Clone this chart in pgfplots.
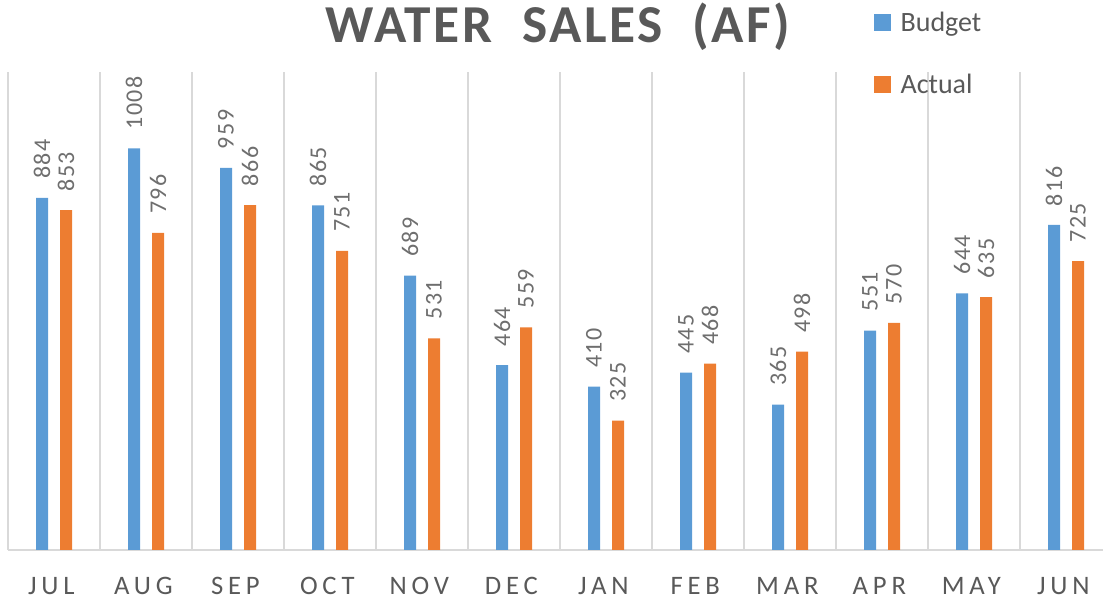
\documentclass[border=0pt]{standalone}
\usepackage{pgfplots}
\pgfplotsset{compat=1.18}
\usepackage{fontspec}
\setmainfont{Carlito}
\newfontfamily\lblfont[LetterSpace=18]{Carlito}
\newfontfamily\numfont[LetterSpace=6]{Carlito}
\newfontfamily\titlefont[LetterSpace=5]{Carlito}
\definecolor{bud}{HTML}{5B9BD5}
\definecolor{act}{HTML}{ED7D31}
\definecolor{txt}{HTML}{595959}
\definecolor{numtxt}{HTML}{6E6E6E}
\definecolor{grd}{HTML}{D9D9D9}
\pgfplotstableread{
x budget actual
0 884 853
1 1008 796
2 959 866
3 865 751
4 689 531
5 464 559
6 410 325
7 445 468
8 365 498
9 551 570
10 644 635
11 816 725
}\datatable
\begin{document}
\begin{tikzpicture}
\begin{axis}[
  at={(6pt,39.75pt)}, anchor=south west,
  scale only axis, width=828pt, height=358.5pt,
  xmin=-0.5, xmax=11.5, ymin=0, ymax=1200,
  ybar=9pt, bar width=9pt,
  axis y line=none,
  axis x line*=bottom,
  x axis line style={draw=grd, line width=1.2pt, -},
  xtick={0,...,11},
  xticklabels={JUL,AUG,SEP,OCT,NOV,DEC,JAN,FEB,MAR,APR,MAY,JUN},
  major tick length=0pt,
  minor xtick={-0.5,0.5,...,10.5},
  minor tick length=0pt,
  xminorgrids=true,
  minor grid style={draw=grd, line width=1.2pt},
  xticklabel style={anchor=base, xshift=-2pt, yshift=-33.75pt, text=txt, font=\lblfont\fontsize{20}{20}\selectfont},
  /pgf/number format/.cd, fixed, precision=0, 1000 sep={}, assume math mode=true, /pgfplots/.cd,
  nodes near coords,
  nodes near coords style={rotate=90, anchor=west, inner xsep=14pt, inner ysep=0pt, text=numtxt, font=\numfont\fontsize{18}{18}\selectfont},
  legend style={at={(rel axis cs:0.7844,1.134)}, anchor=north west, draw=none, fill=none, inner sep=0pt,
    nodes={inner xsep=7pt, inner ysep=3pt},
    row sep=24pt, font=\fontsize{21}{21}\selectfont, text=txt, legend cell align=left},
  clip=false,
]
\addplot[fill=bud, draw=none, legend image code/.code={\fill[bud] (0pt,-6.375pt) rectangle (12.75pt,6.375pt);}] table[x=x, y=budget] {\datatable};
\addlegendentry{Budget}
\addplot[fill=act, draw=none, legend image code/.code={\fill[act] (0pt,-6.375pt) rectangle (12.75pt,6.375pt);}] table[x=x, y=actual] {\datatable};
\addlegendentry{Actual}
\end{axis}
\node[anchor=base, text=txt, font=\titlefont\bfseries\fontsize{40}{40}\selectfont] at (418.5pt,420pt) {WATER\ \ SALES\ \ (AF)};
\pgfresetboundingbox
\useasboundingbox (0,0) rectangle (827.25pt,452.25pt);
\end{tikzpicture}
\end{document}
